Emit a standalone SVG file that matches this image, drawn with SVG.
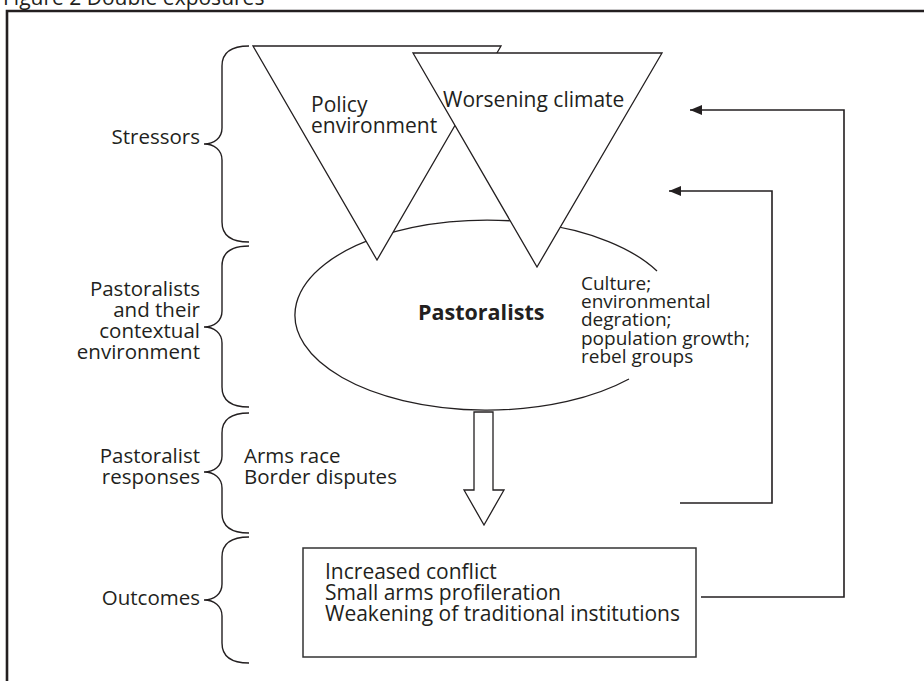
<svg xmlns="http://www.w3.org/2000/svg" width="924" height="681" viewBox="0 0 924 681">
<style>
text{font-family:"Open Sans","Noto Sans","DejaVu Sans",sans-serif;fill:#231f20}
.lbl{font-size:21px}
.lblr{font-size:20.5px;text-anchor:end}
.sm{font-size:19px}
.b{font-size:21.5px;font-weight:bold}
.shape{fill:#fff;stroke:#231f20;stroke-width:1.3}
.brace{fill:none;stroke:#231f20;stroke-width:1.4}
.conn{fill:none;stroke:#231f20;stroke-width:1.6}
</style>
<defs>
<marker id="ah" markerUnits="userSpaceOnUse" markerWidth="13" markerHeight="10" refX="12" refY="5" orient="auto">
<path d="M0,0 L12,5 L0,10 z" fill="#231f20"/>
</marker>
</defs>
<rect width="924" height="681" fill="#fff"/>
<g id="frame">
<text x="3" y="5" class="lbl">Figure 2 Double exposures</text>
<path d="M7 681 V11 H924" fill="none" stroke="#231f20" stroke-width="2.6"/>
</g>
<g id="braces">
<path class="brace" d="M249 46 C232 46 222 52 222 66 L222 128 C222 138 214 144 204 144 C214 144 222 150 222 160 L222 222 C222 236 232 242 249 242"/>
<path class="brace" d="M249 246 C232 246 222 252 222 266 L222 311 C222 321 214 327 204 327 C214 327 222 333 222 343 L222 387 C222 401 232 407 249 407"/>
<path class="brace" d="M249 413 C232 413 222 419 222 433 L222 456 C222 466 214 472 204 472 C214 472 222 478 222 488 L222 513 C222 527 232 533 249 533"/>
<path class="brace" d="M249 537 C232 537 222 543 222 557 L222 584 C222 594 214 600 204 600 C214 600 222 606 222 616 L222 643 C222 657 232 663 249 663"/>
</g>
<g id="label-stressors"><text x="200" y="144" class="lblr">Stressors</text></g>
<g id="label-context">
<text x="200" y="296" class="lblr">Pastoralists</text>
<text x="200" y="317" class="lblr">and their</text>
<text x="200" y="338" class="lblr">contextual</text>
<text x="200" y="359" class="lblr">environment</text>
</g>
<g id="label-responses">
<text x="200" y="463" class="lblr">Pastoralist</text>
<text x="200" y="484" class="lblr">responses</text>
</g>
<g id="label-outcomes"><text x="200" y="605" class="lblr">Outcomes</text></g>
<g id="responses">
<text x="244" y="463" class="lblr" style="text-anchor:start">Arms race</text>
<text x="244" y="484" class="lblr" style="text-anchor:start">Border disputes</text>
</g>
<g id="pastoralists">
<path d="M657 271 A192 95 0 1 0 629 379" fill="none" stroke="#231f20" stroke-width="1.3"/>
<text x="418" y="320" class="b">Pastoralists</text>
</g>
<g id="context-factors">
<text x="581" y="290" class="sm">Culture;</text>
<text x="581" y="308" class="sm">environmental</text>
<text x="581" y="326" class="sm">degration;</text>
<text x="581" y="345" class="sm">population growth;</text>
<text x="581" y="363" class="sm">rebel groups</text>
</g>
<g id="policy">
<polygon class="shape" points="253,46 501,46 377,260"/>
<text x="311" y="112" class="lbl">Policy</text>
<text x="311" y="133" class="lbl">environment</text>
</g>
<g id="climate">
<polygon class="shape" points="413,53 662,53 537,267"/>
<text x="443" y="107" class="lbl">Worsening climate</text>
</g>
<g id="outcomes">
<rect x="303" y="548" width="393" height="109" fill="#fff" stroke="#333" stroke-width="1.5"/>
<text x="325" y="579" class="lbl">Increased conflict</text>
<text x="325" y="600" class="lbl">Small arms profileration</text>
<text x="325" y="621" class="lbl">Weakening of traditional institutions</text>
</g>
<g id="connectors">
<polygon class="shape" points="474,412 493,412 493,490 504,490 484,525 464,490 474,490"/>
<path class="conn" d="M680 503 H772 V191 H669" marker-end="url(#ah)"/>
<path class="conn" d="M701 597 H844 V110 H690" marker-end="url(#ah)"/>
</g>
</svg>
